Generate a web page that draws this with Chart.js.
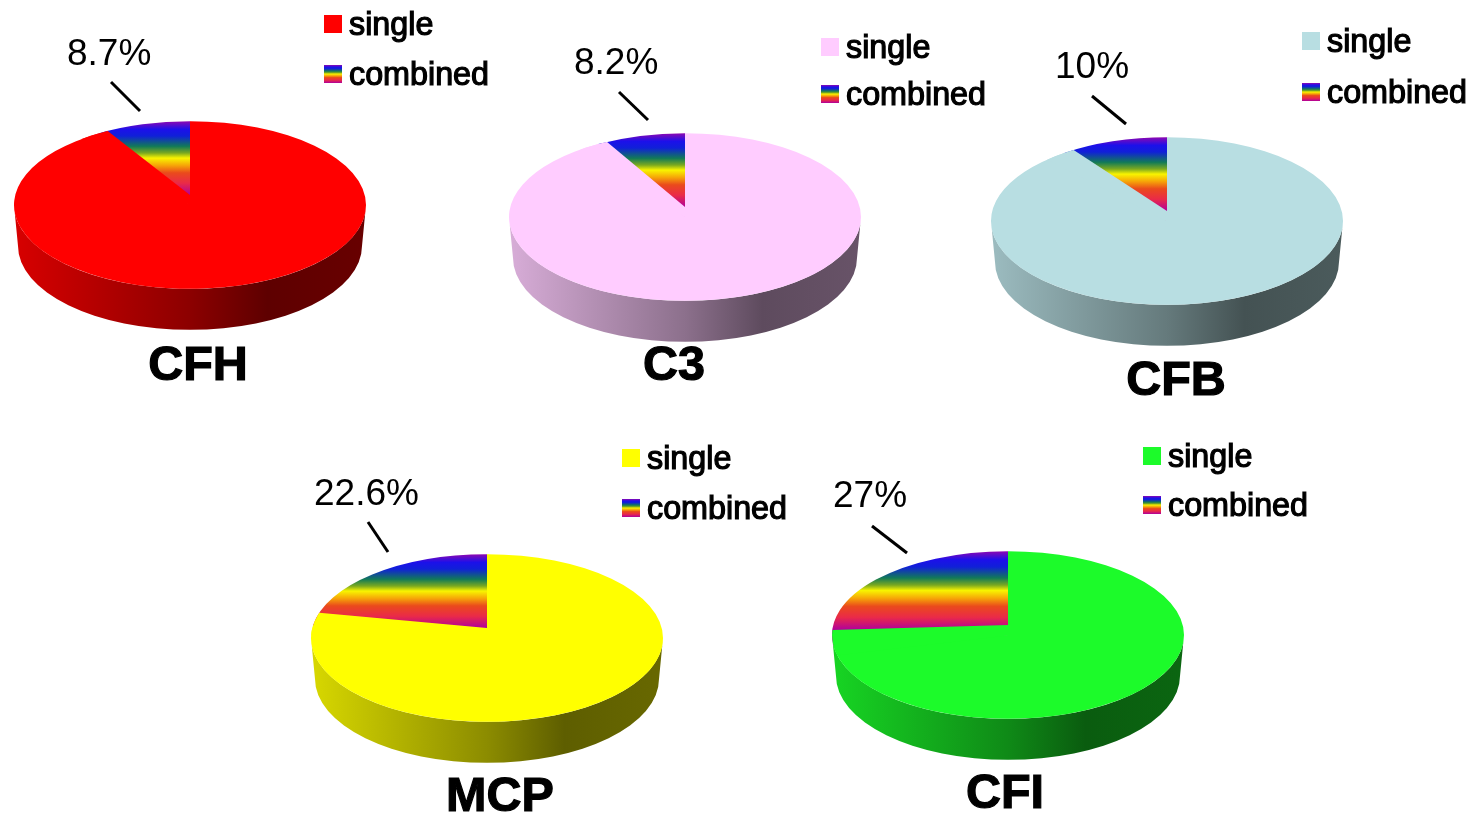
<!DOCTYPE html>
<html>
<head>
<meta charset="utf-8">
<script src="https://cdn.jsdelivr.net/npm/chart.js@4"></script>
<style>
html,body{margin:0;padding:0;background:#fff;overflow:hidden}
#stage{position:relative;width:1471px;height:815px;overflow:hidden;font-family:"Liberation Sans",Arial,sans-serif;color:#000}
#stage canvas{position:absolute}
.t{position:absolute;white-space:nowrap;line-height:1;z-index:2}
.pct{font-size:37px;font-weight:400}
.name{font-size:48.5px;font-weight:700;transform:translateX(-50%);-webkit-text-stroke:1.2px #000;filter:blur(.4px)}
.leg{font-size:32.3px;font-weight:400;-webkit-text-stroke:1.2px #000;filter:blur(.4px)}
.sw{position:absolute;width:18px;height:18px;z-index:2}
</style>
</head>
<body>
<div id="stage"></div>
<script>
// ---- data ----
const genes = ['CFH', 'C3', 'CFB', 'MCP', 'CFI'];
const categories = ['single', 'combined'];
const combinedPct = [8.7, 8.2, 10, 22.6, 27];
const singlePct = [91.3, 91.8, 90, 77.4, 73];
const singleColors = ['#ff0000', '#ffccff', '#b8dee2', '#ffff00', '#1cfb2a'];

// ---- layout ----
const centers = [[190,205],[685,217],[1167,221],[487,638],[1008,635]];
const radius = 176, squash = 0.476, depth = 41, apexLift = 10, angleFactor = 0.89, half = 180;
const leaders = [[-79,-123,-50,-94],[-66,-125,-37,-97],[-75,-125,-41,-97],[-119,-116,-99,-86],[-136,-109,-101,-82]];
const pctPos = [[67,65],[574,74],[1055,78],[314,505],[833,507]];
const namePos = [[198,380],[674,380],[1176,395],[500,811],[1005,808]];
const legendPos = [[324,24,74],[821,47,94],[1302,41,92],[622,458,508],[1143,456,505]];
const rainbow = [[0,'#8f08b0'],[.11,'#1c10ea'],[.2,'#1020d8'],[.34,'#127a58'],[.43,'#7aa820'],[.5,'#f8f400'],[.6,'#f6a408'],[.7,'#ea4a1c'],[.84,'#ea2a48'],[1,'#b0009c']];
const shade = [[0,.85],[.5,.55],[.72,.37],[1,.41]];

function scaled(hex,f){
  const n=parseInt(hex.slice(1),16);
  return `rgb(${(n>>16&255)*f|0},${(n>>8&255)*f|0},${(n&255)*f|0})`;
}
const stage=document.getElementById('stage');
function addText(cls,txt,x,base,fs){
  const d=document.createElement('div');
  d.className='t '+cls; d.textContent=txt;
  d.style.left=x+'px'; d.style.top=(base-0.8465*fs)+'px';
  stage.appendChild(d);
}
function wedgeBottom(y,R,share){
  const th=share/100*2*Math.PI*angleFactor;
  return Math.max(y-apexLift/squash, y-R*Math.cos(th));
}

const piePlugin={
  id:'pie3d',
  beforeDatasetsDraw(chart,args,o){
    const c=chart.ctx, a=chart.getDatasetMeta(0).data[0];
    const x=a.x,y=a.y,R=a.outerRadius;
    const g=c.createLinearGradient(x-R,0,x+R,0);
    shade.forEach(s=>g.addColorStop(s[0],scaled(o.color,s[1])));
    c.save();
    c.beginPath();
    c.ellipse(x,y,R,R*squash,0,0,Math.PI);
    c.ellipse(x,y+depth,R-4,R*squash,0,Math.PI,0,true);
    c.closePath();
    c.fillStyle=g; c.fill();
    c.restore();
    c.save();
    c.translate(x,y); c.scale(1,squash); c.translate(-x,-y);
  },
  afterDatasetsDraw(chart,args,o){
    const c=chart.ctx, meta=chart.getDatasetMeta(0), a=meta.data[1];
    const x=a.x,y=a.y,R=a.outerRadius;
    const th=a.circumference, thp=th*angleFactor;
    const at=(t,r)=>[x-r*Math.sin(t),y-r*Math.cos(t)];
    // perspective: the apex sits above the centre and the cut edge is foreshortened
    c.save();
    c.beginPath(); c.arc(x,y,R,0,2*Math.PI); c.clip();
    c.beginPath();
    c.moveTo(x,y+1);
    c.lineTo(x,y-apexLift/squash);
    c.lineTo(...at(thp,R));
    c.lineTo(...at((th+thp)/2,R*1.1));
    c.lineTo(...at(th+.12,R*1.1));
    c.closePath();
    c.fillStyle=o.color; c.fill();
    c.restore();
    c.restore();
    const l=o.leader;
    c.save();
    c.strokeStyle='#000'; c.lineWidth=3; c.lineCap='butt';
    c.beginPath(); c.moveTo(x+l[0],y+l[1]); c.lineTo(x+l[2],y+l[3]); c.stroke();
    c.restore();
  }
};

genes.forEach((gene,i)=>{
  const cv=document.createElement('canvas');
  cv.width=cv.height=half*2;
  cv.style.left=(centers[i][0]-half)+'px';
  cv.style.top=(centers[i][1]-half)+'px';
  cv.style.width=cv.style.height=(half*2)+'px';
  stage.appendChild(cv);
  new Chart(cv,{
    type:'pie',
    data:{labels:categories,datasets:[{
      data:[singlePct[i],combinedPct[i]],
      borderWidth:0,
      clip:false,
      backgroundColor(ctx){
        if(ctx.dataIndex===0) return singleColors[i];
        const ca=ctx.chart.chartArea;
        if(!ca) return '#1c10ea';
        const cy=(ca.top+ca.bottom)/2,R=ca.width/2;
        const g=ctx.chart.ctx.createLinearGradient(0,cy-R,0,wedgeBottom(cy,R,combinedPct[i]));
        rainbow.forEach(s=>g.addColorStop(s[0],s[1]));
        return g;
      }
    }]},
    options:{
      responsive:false,animation:false,rotation:0,
      layout:{padding:half-radius},
      events:[],
      plugins:{
        legend:{display:false},title:{display:false},tooltip:{enabled:false},
        pie3d:{color:singleColors[i],leader:leaders[i]}
      }
    },
    plugins:[piePlugin]
  });
  addText('pct',combinedPct[i]+'%',pctPos[i][0],pctPos[i][1],37);
  addText('name',gene,namePos[i][0],namePos[i][1],48.5);
  const lp=legendPos[i];
  categories.forEach((cat,k)=>{
    const cy=lp[k+1];
    const sw=document.createElement('div');
    sw.className='sw';
    sw.style.left=lp[0]+'px'; sw.style.top=(cy-9)+'px';
    sw.style.background=k===0?singleColors[i]:
      'linear-gradient(to bottom,'+rainbow.map(s=>s[1]+' '+(s[0]*100)+'%').join(',')+')';
    stage.appendChild(sw);
    addText('leg',cat,lp[0]+25,cy+11,32.3);
  });
});
</script>
</body>
</html>
